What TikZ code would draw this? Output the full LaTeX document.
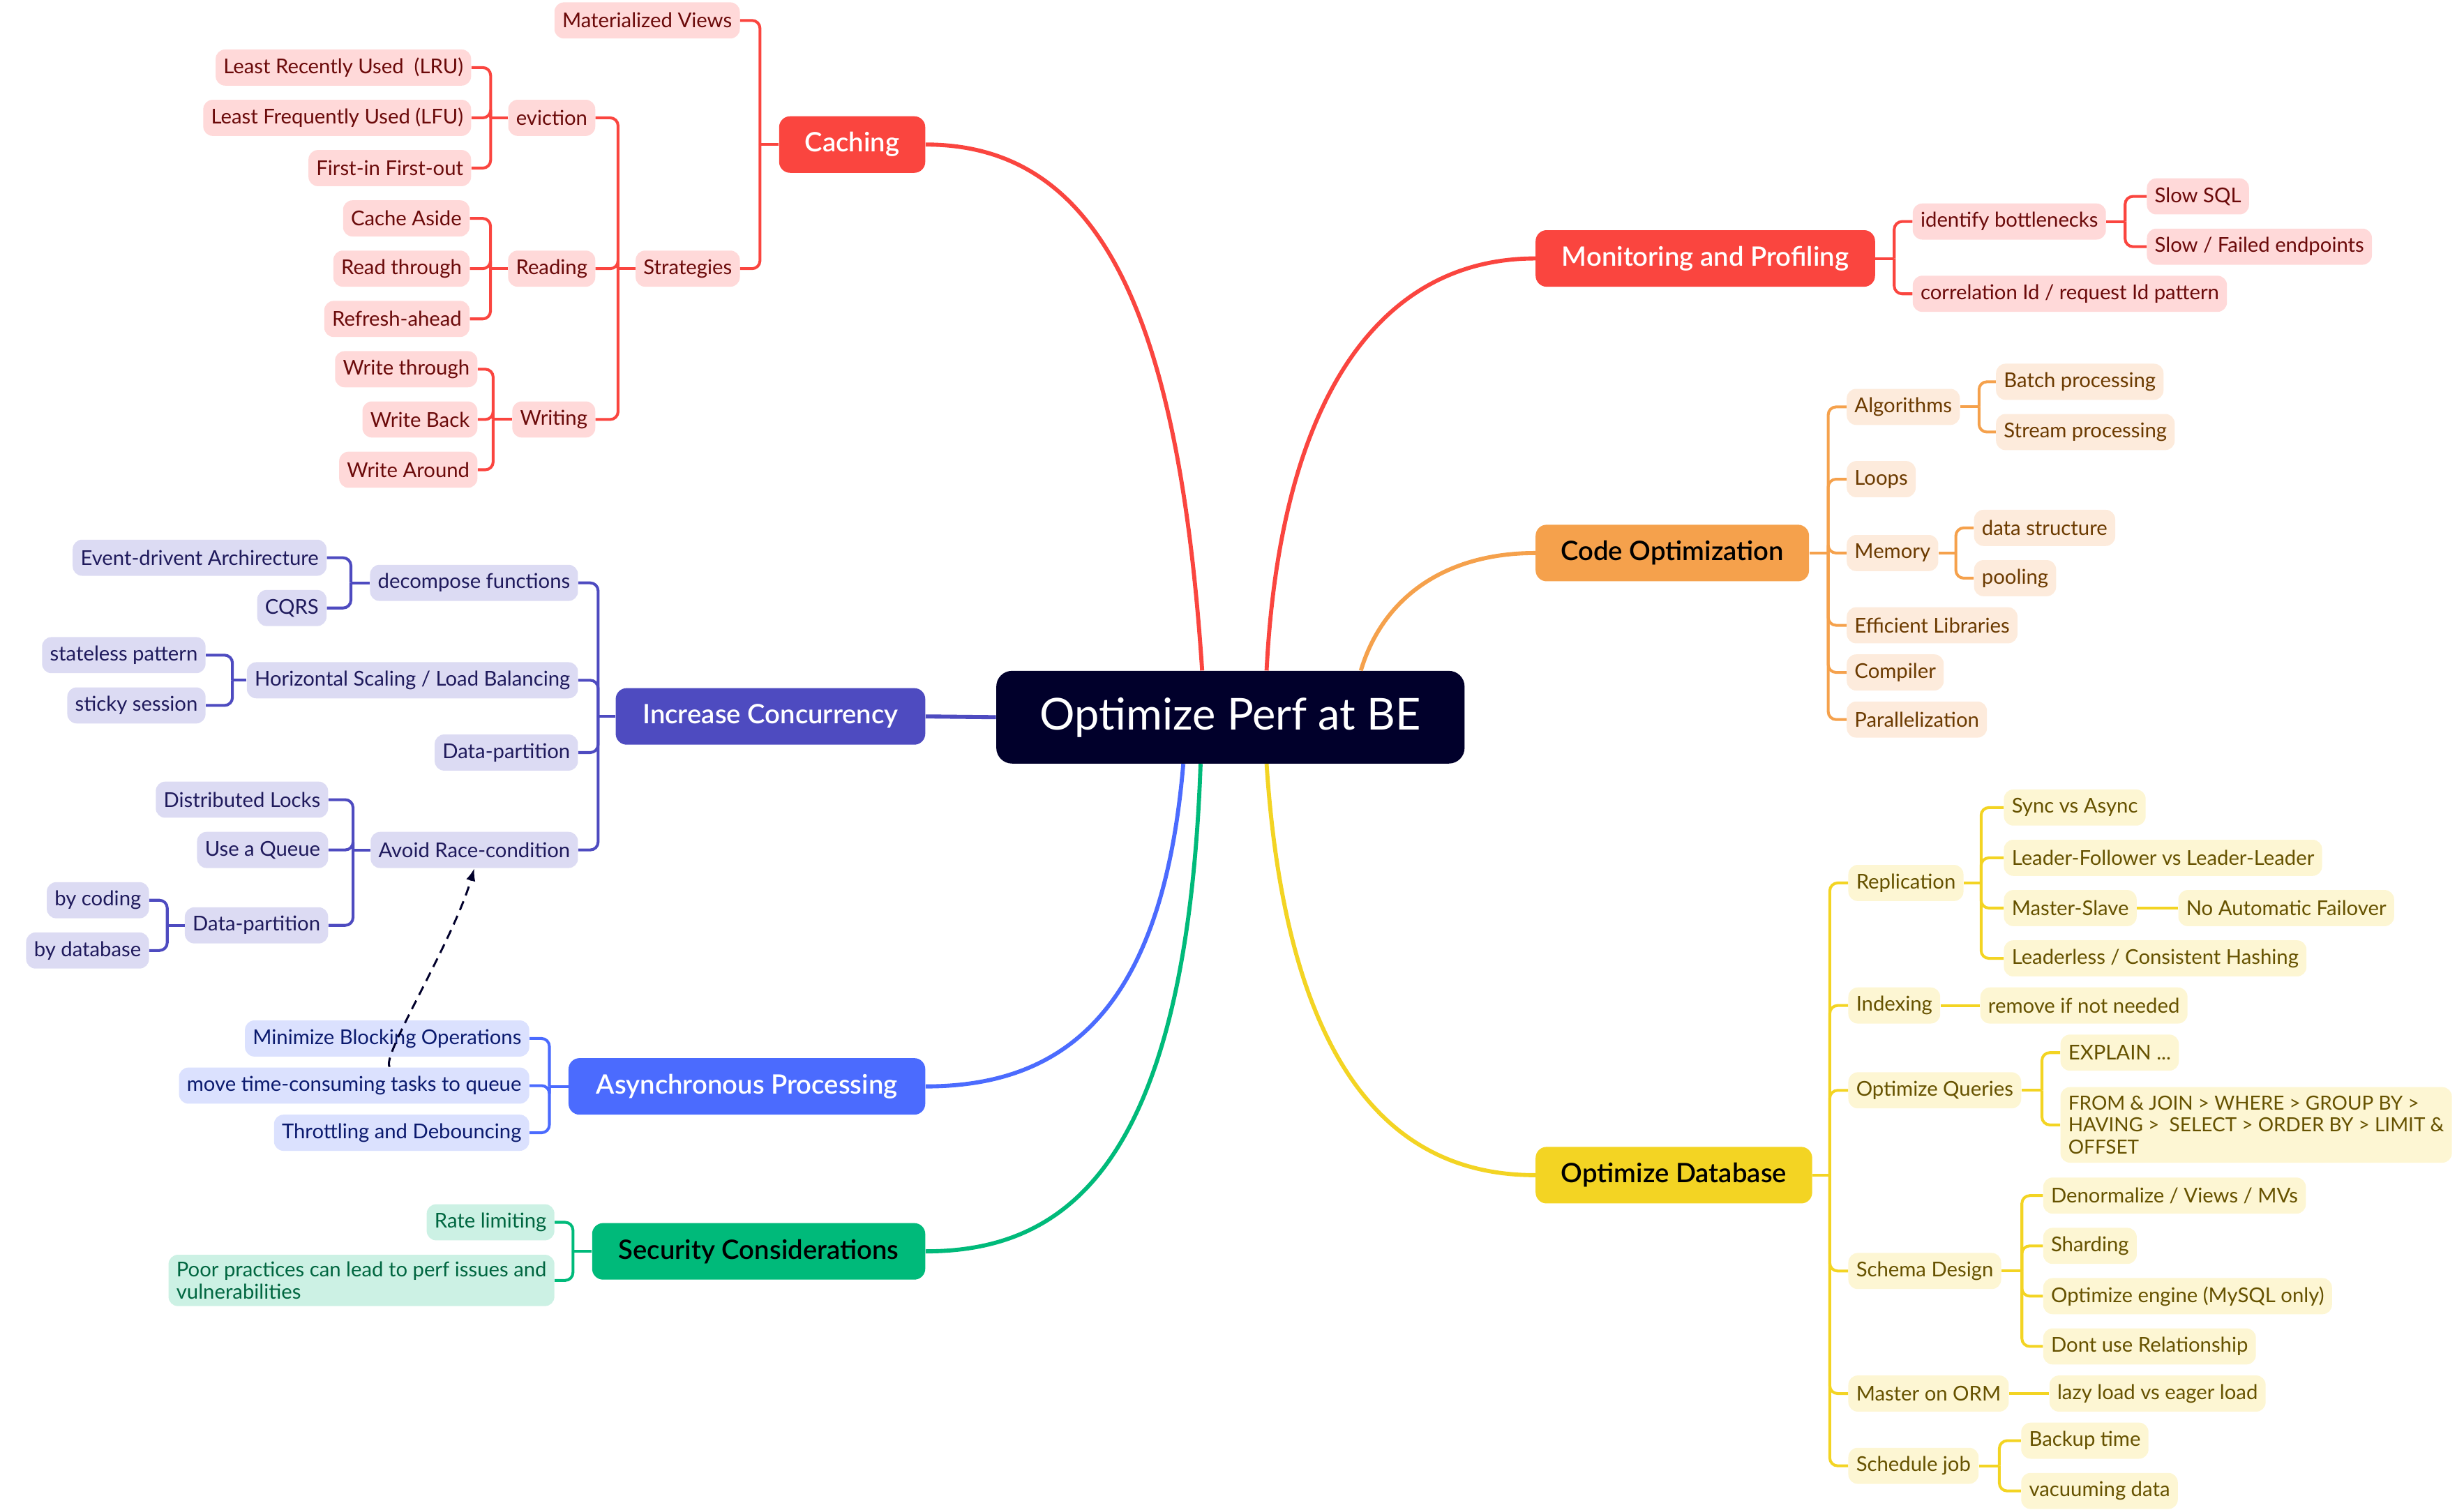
\documentclass[tikz,border=0pt]{standalone}
\usepackage{fontspec}
\setmainfont{Lato}
\newfontfamily\semifont{Lato Semibold}
\usepackage{xcolor}
\usetikzlibrary{arrows.meta}

\definecolor{rootc}{HTML}{01002B}
\definecolor{redc}{HTML}{FA453F}
\definecolor{redlt}{HTML}{FFD9D9}
\definecolor{redtx}{HTML}{6B0A0A}
\definecolor{orgc}{HTML}{F5A14C}
\definecolor{orglt}{HTML}{FDEBDC}
\definecolor{orgtx}{HTML}{6B3A00}
\definecolor{purc}{HTML}{4E4BC0}
\definecolor{purlt}{HTML}{DCDBF3}
\definecolor{purtx}{HTML}{1F1A5C}
\definecolor{bluc}{HTML}{4B6BFE}
\definecolor{blult}{HTML}{DBE1FE}
\definecolor{blutx}{HTML}{0B1A6E}
\definecolor{grnc}{HTML}{00BA7A}
\definecolor{grnlt}{HTML}{CCF1E4}
\definecolor{grntx}{HTML}{006640}
\definecolor{yelc}{HTML}{F3D423}
\definecolor{yellt}{HTML}{FDF6D3}
\definecolor{yeltx}{HTML}{665200}

\newcommand\leaffont{\fontsize{13}{14}\selectfont}
\newcommand\topicfont{\semifont\fontsize{17}{20}\selectfont}
\newcommand\rootfont{\fontsize{28}{32}\selectfont}

\tikzset{
  leaf/.style={rounded corners=6pt, inner xsep=5pt, inner ysep=4.5pt, minimum height=23pt, font=\leaffont, align=left},
  redleaf/.style={leaf, fill=redlt, text=redtx},
  orgleaf/.style={leaf, fill=orglt, text=orgtx},
  purleaf/.style={leaf, fill=purlt, text=purtx},
  bluleaf/.style={leaf, fill=blult, text=blutx},
  grnleaf/.style={leaf, fill=grnlt, text=grntx},
  yelleaf/.style={leaf, fill=yellt, text=yeltx},
  topic/.style={rounded corners=7pt, minimum height=36pt, inner xsep=0pt, font=\topicfont},
  redln/.style={draw=redc, line width=1.8pt, rounded corners=5pt},
  orgln/.style={draw=orgc, line width=1.8pt, rounded corners=5pt},
  purln/.style={draw=purc, line width=1.8pt, rounded corners=5pt},
  bluln/.style={draw=bluc, line width=1.8pt, rounded corners=5pt},
  grnln/.style={draw=grnc, line width=1.8pt, rounded corners=5pt},
  yelln/.style={draw=yelc, line width=1.8pt, rounded corners=5pt},
  mainln/.style={line width=2.6pt},
}

\begin{document}
\begin{tikzpicture}[x=1pt,y=-1pt]
\useasboundingbox (0,0) rectangle (1568,961);

% Root
\node [fill=rootc, text=white, rounded corners=10pt, minimum width=298pt, minimum height=59pt, font=\rootfont] (root) at (783,456.5) {Optimize Perf at BE};

% Topics
\node [topic, fill=redc, text=white, minimum width=93pt, anchor=east] (caching) at (589,92) {Caching};
\node [topic, fill=redc, text=white, minimum width=216pt, anchor=west] (monitor) at (977,164.5) {Monitoring and Profiling};
\node [topic, fill=orgc, text=black, minimum width=174pt, anchor=west] (code) at (977,352) {Code Optimization};
\node [topic, fill=purc, text=white, minimum width=197pt, anchor=east] (concur) at (589,456) {Increase Concurrency};
\node [topic, fill=bluc, text=white, minimum width=227pt, anchor=east] (async) at (589,691.5) {Asynchronous Processing};
\node [topic, fill=grnc, text=black, minimum width=212pt, anchor=east] (secur) at (589,796.5) {Security Considerations};
\node [topic, fill=yelc, text=black, minimum width=176pt, anchor=west] (db) at (977,748) {Optimize Database};

% Root to topics
\draw [mainln, redc] ([xshift=-18pt]root.north) .. controls (750,200) and (700,92) .. (caching.east);
\draw [mainln, redc] ([xshift=23pt]root.north) .. controls (815,250) and (880,164.5) .. (monitor.west);
\draw [mainln, orgc] ([xshift=83pt]root.north) .. controls (880,380) and (920,352) .. (code.west);
\draw [mainln, purc] (root.west) -- (concur.east);
\draw [mainln, bluc] ([xshift=-30pt]root.south) .. controls (740,640) and (680,691.5) .. (async.east);
\draw [mainln, grnc] ([xshift=-19pt]root.south) .. controls (755,740) and (680,796.5) .. (secur.east);
\draw [mainln, yelc] ([xshift=23pt]root.south) .. controls (820,700) and (900,748) .. (db.west);

% Caching
\node [redleaf, anchor=east] (mviews) at (471,13) {Materialized Views};
\node [redleaf, anchor=east] (strat) at (471,171) {Strategies};
\node [redleaf, anchor=east] (evict) at (379,75) {eviction};
\node [redleaf, anchor=east] (reading) at (379,171) {Reading};
\node [redleaf, anchor=east] (writing) at (379,267) {Writing};
\node [redleaf, anchor=east] (lru) at (300,43) {Least Recently Used~~(LRU)};
\node [redleaf, anchor=east] (lfu) at (300,75) {Least Frequently Used (LFU)};
\node [redleaf, anchor=east] (fifo) at (300,107) {First-in First-out};
\node [redleaf, anchor=east] (aside) at (299,139) {Cache Aside};
\node [redleaf, anchor=east] (rthrough) at (299,171) {Read through};
\node [redleaf, anchor=east] (refresh) at (299,203) {Refresh-ahead};
\node [redleaf, anchor=east] (wthrough) at (304,235) {Write through};
\node [redleaf, anchor=east] (wback) at (304,267) {Write Back};
\node [redleaf, anchor=east] (waround) at (304,299) {Write Around};

\draw [redln] (caching.west) -- ++(-12,0);
\draw [redln] ([xshift=-12pt]caching.west) |- (mviews.east);
\draw [redln] ([xshift=-12pt]caching.west) |- (strat.east);
\draw [redln] (strat.west) -- ++(-11,0);
\draw [redln] ([xshift=-11pt]strat.west) |- (evict.east);
\draw [redln] ([xshift=-11pt]strat.west) |- (reading.east);
\draw [redln] ([xshift=-11pt]strat.west) |- (writing.east);
\draw [redln] (evict.west) -- ++(-11,0);
\draw [redln] ([xshift=-11pt]evict.west) |- (lru.east);
\draw [redln] ([xshift=-11pt]evict.west) |- (lfu.east);
\draw [redln] ([xshift=-11pt]evict.west) |- (fifo.east);
\draw [redln] (reading.west) -- ++(-11,0);
\draw [redln] ([xshift=-11pt]reading.west) |- (aside.east);
\draw [redln] ([xshift=-11pt]reading.west) |- (rthrough.east);
\draw [redln] ([xshift=-11pt]reading.west) |- (refresh.east);
\draw [redln] (writing.west) -- ++(-12,0);
\draw [redln] ([xshift=-12pt]writing.west) |- (wthrough.east);
\draw [redln] ([xshift=-12pt]writing.west) |- (wback.east);
\draw [redln] ([xshift=-12pt]writing.west) |- (waround.east);

% Monitoring and Profiling
\node [redleaf, anchor=west] (bottle) at (1217,141) {identify bottlenecks};
\node [redleaf, anchor=west] (corr) at (1217,187) {correlation Id / request Id pattern};
\node [redleaf, anchor=west] (slowsql) at (1366,125) {Slow SQL};
\node [redleaf, anchor=west] (slowep) at (1366,157) {Slow / Failed endpoints};

\draw [redln] (monitor.east) -- ++(12,0);
\draw [redln] ([xshift=12pt]monitor.east) |- (bottle.west);
\draw [redln] ([xshift=12pt]monitor.east) |- (corr.west);
\draw [redln] (bottle.east) -- ++(12,0);
\draw [redln] ([xshift=12pt]bottle.east) |- (slowsql.west);
\draw [redln] ([xshift=12pt]bottle.east) |- (slowep.west);

% Code Optimization
\node [orgleaf, anchor=west] (algo) at (1175,259) {Algorithms};
\node [orgleaf, anchor=west] (loops) at (1175,305) {Loops};
\node [orgleaf, anchor=west] (memory) at (1175,352) {Memory};
\node [orgleaf, anchor=west] (libs) at (1175,398) {Efficient Libraries};
\node [orgleaf, anchor=west] (compiler) at (1175,428) {Compiler};
\node [orgleaf, anchor=west] (parallel) at (1175,458) {Parallelization};
\node [orgleaf, anchor=west] (batch) at (1270,243) {Batch processing};
\node [orgleaf, anchor=west] (stream) at (1270,275) {Stream processing};
\node [orgleaf, anchor=west] (dstruct) at (1256,336) {data structure};
\node [orgleaf, anchor=west] (pooling) at (1256,368) {pooling};

\draw [orgln] (code.east) -- ++(12,0);
\draw [orgln] ([xshift=12pt]code.east) |- (algo.west);
\draw [orgln] ([xshift=12pt]code.east) |- (loops.west);
\draw [orgln] ([xshift=12pt]code.east) |- (memory.west);
\draw [orgln] ([xshift=12pt]code.east) |- (libs.west);
\draw [orgln] ([xshift=12pt]code.east) |- (compiler.west);
\draw [orgln] ([xshift=12pt]code.east) |- (parallel.west);
\draw [orgln] (algo.east) -- ++(12,0);
\draw [orgln] ([xshift=12pt]algo.east) |- (batch.west);
\draw [orgln] ([xshift=12pt]algo.east) |- (stream.west);
\draw [orgln] (memory.east) -- ++(11,0);
\draw [orgln] ([xshift=11pt]memory.east) |- (dstruct.west);
\draw [orgln] ([xshift=11pt]memory.east) |- (pooling.west);

% Increase Concurrency
\node [purleaf, anchor=east] (decomp) at (368,371) {decompose functions};
\node [purleaf, anchor=east] (hscale) at (368,433) {Horizontal Scaling / Load Balancing};
\node [purleaf, anchor=east] (dpart) at (368,479) {Data-partition};
\node [purleaf, anchor=east] (race) at (368,541) {Avoid Race-condition};
\node [purleaf, anchor=east] (event) at (208,355) {Event-drivent Archirecture};
\node [purleaf, anchor=east] (cqrs) at (208,387) {CQRS};
\node [purleaf, anchor=east] (stateless) at (131,417) {stateless pattern};
\node [purleaf, anchor=east] (sticky) at (131,449) {sticky session};
\node [purleaf, anchor=east] (dlocks) at (209,509) {Distributed Locks};
\node [purleaf, anchor=east] (queue) at (209,541) {Use a Queue};
\node [purleaf, anchor=east] (dpartb) at (209,589) {Data-partition};
\node [purleaf, anchor=east] (bycode) at (95,573) {by coding};
\node [purleaf, anchor=east] (bydb) at (95,605) {by database};

\draw [purln] (concur.west) -- ++(-11,0);
\draw [purln] ([xshift=-11pt]concur.west) |- (decomp.east);
\draw [purln] ([xshift=-11pt]concur.west) |- (hscale.east);
\draw [purln] ([xshift=-11pt]concur.west) |- (dpart.east);
\draw [purln] ([xshift=-11pt]concur.west) |- (race.east);
\draw [purln] (decomp.west) -- ++(-12,0);
\draw [purln] ([xshift=-12pt]decomp.west) |- (event.east);
\draw [purln] ([xshift=-12pt]decomp.west) |- (cqrs.east);
\draw [purln] (hscale.west) -- ++(-9,0);
\draw [purln] ([xshift=-9pt]hscale.west) |- (stateless.east);
\draw [purln] ([xshift=-9pt]hscale.west) |- (sticky.east);
\draw [purln] (race.west) -- ++(-11,0);
\draw [purln] ([xshift=-11pt]race.west) |- (dlocks.east);
\draw [purln] ([xshift=-11pt]race.west) |- (queue.east);
\draw [purln] ([xshift=-11pt]race.west) |- (dpartb.east);
\draw [purln] (dpartb.west) -- ++(-11,0);
\draw [purln] ([xshift=-11pt]dpartb.west) |- (bycode.east);
\draw [purln] ([xshift=-11pt]dpartb.west) |- (bydb.east);

% Asynchronous Processing
\node [bluleaf, anchor=east] (minblock) at (337,661) {Minimize Blocking Operations};
\node [bluleaf, anchor=east] (movetask) at (337,691) {move time-consuming tasks to queue};
\node [bluleaf, anchor=east] (throttle) at (337,721) {Throttling and Debouncing};

\draw [bluln] (async.west) -- ++(-12,0);
\draw [bluln] ([xshift=-12pt]async.west) |- (minblock.east);
\draw [bluln] ([xshift=-12pt]async.west) |- (movetask.east);
\draw [bluln] ([xshift=-12pt]async.west) |- (throttle.east);

% Security Considerations
\node [grnleaf, anchor=east] (rate) at (353,778) {Rate limiting};
\node [grnleaf, anchor=east] (poor) at (353,815) {Poor practices can lead to perf issues and\\vulnerabilities};

\draw [grnln] (secur.west) -- ++(-12,0);
\draw [grnln] ([xshift=-12pt]secur.west) |- (rate.east);
\draw [grnln] ([xshift=-12pt]secur.west) |- (poor.east);

% Optimize Database
\node [yelleaf, anchor=west] (repl) at (1176,562) {Replication};
\node [yelleaf, anchor=west] (index) at (1176,640) {Indexing};
\node [yelleaf, anchor=west] (optq) at (1176,694) {Optimize Queries};
\node [yelleaf, anchor=west] (schema) at (1176,809) {Schema Design};
\node [yelleaf, anchor=west] (orm) at (1176,887) {Master on ORM};
\node [yelleaf, anchor=west] (sched) at (1176,933) {Schedule job};
\node [yelleaf, anchor=west] (sync) at (1275,514) {Sync vs Async};
\node [yelleaf, anchor=west] (leadf) at (1275,546) {Leader-Follower vs Leader-Leader};
\node [yelleaf, anchor=west] (mslave) at (1275,578) {Master-Slave};
\node [yelleaf, anchor=west] (nofail) at (1386,578) {No Automatic Failover};
\node [yelleaf, anchor=west] (leaderless) at (1275,610) {Leaderless / Consistent Hashing};
\node [yelleaf, anchor=west] (rmidx) at (1260,640) {remove if not needed};
\node [yelleaf, anchor=west] (explain) at (1311,670) {EXPLAIN ...};
\node [yelleaf, anchor=west, inner ysep=5.5pt, font=\fontsize{12.4}{14}\selectfont] (order) at (1311,716) {FROM \& JOIN > WHERE > GROUP BY >\\HAVING >~~SELECT > ORDER BY > LIMIT \&\\OFFSET};
\node [yelleaf, anchor=west] (denorm) at (1300,761) {Denormalize / Views / MVs};
\node [yelleaf, anchor=west] (shard) at (1300,793) {Sharding};
\node [yelleaf, anchor=west] (engine) at (1300,825) {Optimize engine (MySQL only)};
\node [yelleaf, anchor=west] (norel) at (1300,857) {Dont use Relationship};
\node [yelleaf, anchor=west] (lazy) at (1304,887) {lazy load vs eager load};
\node [yelleaf, anchor=west] (backup) at (1286,917) {Backup time};
\node [yelleaf, anchor=west] (vacuum) at (1286,949) {vacuuming data};

\draw [yelln] (db.east) -- ++(11,0);
\draw [yelln] ([xshift=11pt]db.east) |- (repl.west);
\draw [yelln] ([xshift=11pt]db.east) |- (index.west);
\draw [yelln] ([xshift=11pt]db.east) |- (optq.west);
\draw [yelln] ([xshift=11pt]db.east) |- (schema.west);
\draw [yelln] ([xshift=11pt]db.east) |- (orm.west);
\draw [yelln] ([xshift=11pt]db.east) |- (sched.west);
\draw [yelln] (repl.east) -- ++(11,0);
\draw [yelln] ([xshift=11pt]repl.east) |- (sync.west);
\draw [yelln] ([xshift=11pt]repl.east) |- (leadf.west);
\draw [yelln] ([xshift=11pt]repl.east) |- (mslave.west);
\draw [yelln] ([xshift=11pt]repl.east) |- (leaderless.west);
\draw [yelln] (mslave.east) -- (nofail.west);
\draw [yelln] (index.east) -- (rmidx.west);
\draw [yelln] (optq.east) -- ++(13,0);
\draw [yelln] ([xshift=13pt]optq.east) |- (explain.west);
\draw [yelln] ([xshift=13pt]optq.east) |- (order.west);
\draw [yelln] (schema.east) -- ++(13,0);
\draw [yelln] ([xshift=13pt]schema.east) |- (denorm.west);
\draw [yelln] ([xshift=13pt]schema.east) |- (shard.west);
\draw [yelln] ([xshift=13pt]schema.east) |- (engine.west);
\draw [yelln] ([xshift=13pt]schema.east) |- (norel.west);
\draw [yelln] (orm.east) -- (lazy.west);
\draw [yelln] (sched.east) -- ++(13,0);
\draw [yelln] ([xshift=13pt]sched.east) |- (backup.west);
\draw [yelln] ([xshift=13pt]sched.east) |- (vacuum.west);

% Dashed link
\coordinate (hook) at (248,679);
\draw [line width=1.3pt, rootc, dash pattern=on 6pt off 4pt, -{Latex[length=8pt,width=6pt]}] (hook) .. controls (242,673) and (288,600) .. (race.south);
\end{tikzpicture}
\end{document}
